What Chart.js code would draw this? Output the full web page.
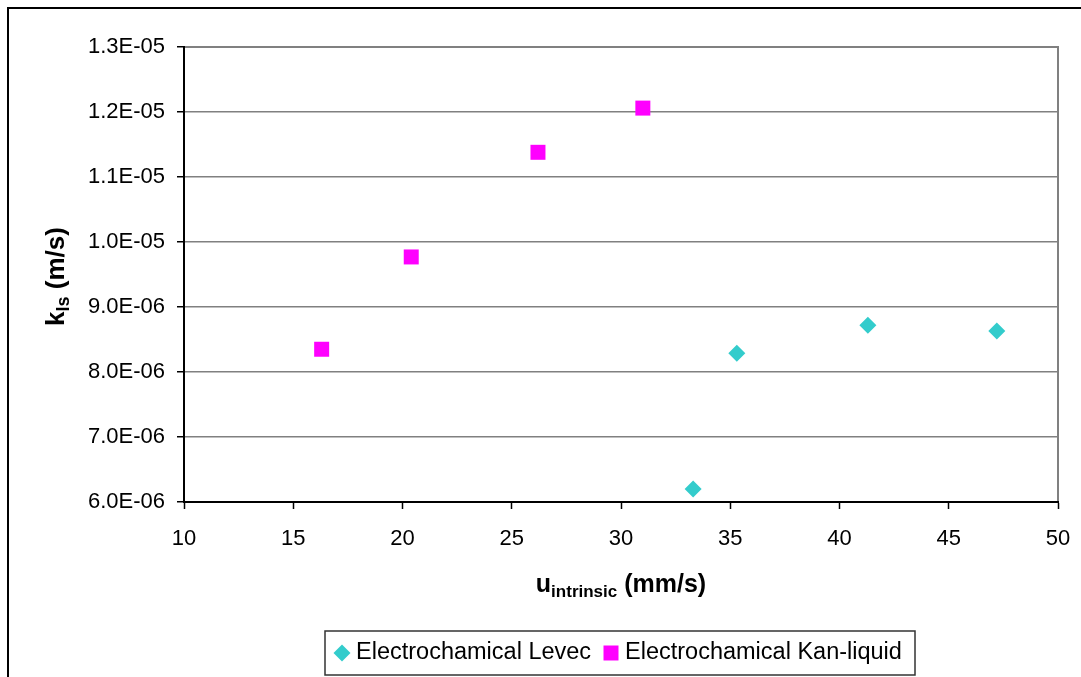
<!DOCTYPE html>
<html>
<head>
<meta charset="utf-8">
<title>kls vs u intrinsic</title>
<script src="https://cdn.jsdelivr.net/npm/chart.js@4.4.0/dist/chart.umd.min.js"></script>
<style>
  html, body { margin: 0; padding: 0; background: #fff; }
  #wrap { width: 1081px; height: 677px; }
</style>
</head>
<body>
<div id="wrap"><canvas id="chart" width="1081" height="677"></canvas></div>
<script>
// data
const levecLabel = 'Electrochamical Levec';
const levecU = [33.3, 35.3, 41.3, 47.2];
const levecK = [6.2e-6, 8.29e-6, 8.72e-6, 8.63e-6];

const kanLabel = 'Electrochamical Kan-liquid';
const kanU = [16.3, 20.4, 26.2, 31.0];
const kanK = [8.35e-6, 9.77e-6, 1.138e-5, 1.206e-5];

const xTicks = { min: 10, max: 50, step: 5 };
const yTicks = { min: 6e-6, max: 1.3e-5, step: 1e-6 };

const FONT = "'Liberation Sans', Arial, sans-serif";

function toPoints(xs, ys) {
    return xs.map((x, i) => ({ x: x, y: ys[i] }));
}

// 1.3E-05 style labels
function sci(v) {
    const parts = Number(v).toExponential(1).split('e');
    let exp = parseInt(parts[1], 10);
    const sign = exp < 0 ? '-' : '+';
    exp = Math.abs(exp);
    return parts[0] + 'E' + sign + (exp < 10 ? '0' + exp : exp);
}

// draws text with a subscript part, returns width
function subText(ctx, parts, x, y, measureOnly) {
    let w = 0;
    parts.forEach(p => {
        ctx.font = 'bold ' + p.size + 'px ' + FONT;
        if (!measureOnly) ctx.fillText(p.text, x + w, y + (p.sub ? 5 : 0));
        w += ctx.measureText(p.text).width;
    });
    return w;
}

const framePlugin = {
    id: 'frame',
    beforeDraw(chart) {
        const ctx = chart.ctx;
        const a = chart.chartArea;
        ctx.save();
        // outer chart border (runs off the right / bottom)
        ctx.strokeStyle = '#000';
        ctx.lineWidth = 2;
        ctx.strokeRect(8, 8, 1200, 800);
        // plot area border
        ctx.strokeStyle = '#808080';
        ctx.lineWidth = 2;
        ctx.strokeRect(a.left, a.top, a.right - a.left, a.bottom - a.top);
        ctx.restore();
    },
    afterDraw(chart) {
        const ctx = chart.ctx;
        const a = chart.chartArea;
        ctx.save();
        ctx.fillStyle = '#000';
        ctx.textBaseline = 'alphabetic';
        ctx.textAlign = 'left';

        // x axis title
        const xParts = [
            { text: 'u', size: 25 },
            { text: 'intrinsic', size: 17, sub: true },
            { text: ' (mm/s)', size: 25 }
        ];
        const xw = subText(ctx, xParts, 0, 0, true);
        subText(ctx, xParts, (a.left + a.right) / 2 - xw / 2, 592);

        // y axis title, rotated
        const yParts = [
            { text: 'k', size: 26 },
            { text: 'ls', size: 18, sub: true },
            { text: ' (m/s)', size: 26 }
        ];
        const yw = subText(ctx, yParts, 0, 0, true);
        ctx.translate(64, (a.top + a.bottom) / 2 + 2);
        ctx.rotate(-Math.PI / 2);
        subText(ctx, yParts, -yw / 2, 0);
        ctx.restore();

        // legend box
        ctx.save();
        const lx = 325, ly = 631, lw = 590, lh = 44;
        ctx.strokeStyle = '#333';
        ctx.lineWidth = 1.5;
        ctx.strokeRect(lx, ly, lw, lh);
        ctx.font = '23.5px ' + FONT;
        ctx.textBaseline = 'middle';
        ctx.fillStyle = '#000';
        const cy = ly + lh / 2;
        const items = chart.data.datasets;
        const symX = [342, 611];
        items.forEach((ds, i) => {
            ctx.fillStyle = ds.backgroundColor;
            ctx.beginPath();
            if (ds.pointStyle === 'rectRot') {
                const r = 8.5;
                ctx.moveTo(symX[i] - r, cy);
                ctx.lineTo(symX[i], cy - r);
                ctx.lineTo(symX[i] + r, cy);
                ctx.lineTo(symX[i], cy + r);
                ctx.closePath();
            } else {
                ctx.rect(symX[i] - 7.5, cy - 7.5, 15, 15);
            }
            ctx.fill();
            ctx.fillStyle = '#000';
            ctx.fillText(ds.label, symX[i] + 14, cy);
        });
        ctx.restore();
    }
};

new Chart(document.getElementById('chart').getContext('2d'), {
    type: 'scatter',
    data: {
        datasets: [{
            label: levecLabel,
            data: toPoints(levecU, levecK),
            pointStyle: 'rectRot',
            pointRadius: 8.5,
            pointHoverRadius: 8.5,
            backgroundColor: '#33CCCC',
            borderColor: '#33CCCC',
            borderWidth: 0
        }, {
            label: kanLabel,
            data: toPoints(kanU, kanK),
            pointStyle: 'rect',
            pointRadius: 10.6,
            pointHoverRadius: 10.6,
            backgroundColor: '#FF00FF',
            borderColor: '#FF00FF',
            borderWidth: 0
        }]
    },
    options: {
        responsive: false,
        animation: false,
        devicePixelRatio: 1,
        layout: { padding: { left: 0, top: 47, right: 23, bottom: 115 } },
        plugins: {
            legend: { display: false },
            tooltip: { enabled: false }
        },
        scales: {
            x: {
                type: 'linear',
                min: xTicks.min,
                max: xTicks.max,
                afterFit(scale) {
                    scale.height = 60;
                    scale.paddingLeft = 0;
                    scale.paddingRight = 0;
                },
                ticks: {
                    stepSize: xTicks.step,
                    color: '#000',
                    padding: 17,
                    font: { family: FONT, size: 22 }
                },
                grid: {
                    drawOnChartArea: false,
                    drawTicks: true,
                    tickLength: 7,
                    tickColor: '#000',
                    tickWidth: 1.5
                },
                border: { display: true, color: '#000', width: 2 }
            },
            y: {
                type: 'linear',
                min: yTicks.min,
                max: yTicks.max,
                afterFit(scale) {
                    scale.width = 184;
                    scale.paddingTop = 0;
                    scale.paddingBottom = 0;
                },
                ticks: {
                    stepSize: yTicks.step,
                    color: '#000',
                    padding: 12,
                    font: { family: FONT, size: 22 },
                    callback: v => sci(v)
                },
                grid: {
                    color: '#808080',
                    lineWidth: 1.5,
                    tickLength: 7,
                    tickColor: '#000',
                    tickWidth: 1.5
                },
                border: { display: true, color: '#000', width: 2 }
            }
        }
    },
    plugins: [framePlugin]
});
</script>
</body>
</html>
